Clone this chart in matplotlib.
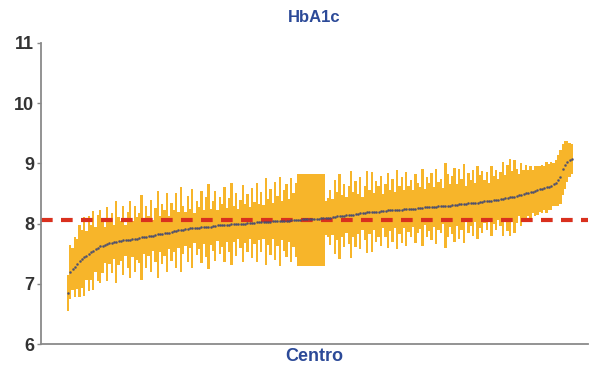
import matplotlib
matplotlib.use("Agg")
import matplotlib.pyplot as plt
from matplotlib.patches import Rectangle
import numpy as np

# Mean HbA1c per centre, sorted ascending
mean_hba1c = [
    6.84, 7.20, 7.24, 7.28, 7.33, 7.38, 7.41, 7.45, 7.47, 7.50, 7.52, 7.55, 7.57, 7.59, 7.62,
    7.63, 7.65, 7.66, 7.68, 7.68, 7.69, 7.70, 7.71, 7.71, 7.72, 7.72, 7.73, 7.73, 7.74, 7.74, 7.75,
    7.76, 7.77, 7.77, 7.78, 7.79, 7.80, 7.80, 7.81, 7.82, 7.82, 7.83, 7.84, 7.85, 7.85, 7.86, 7.87, 7.88, 7.89, 7.90,
    7.90, 7.91, 7.91, 7.92, 7.92, 7.93, 7.93, 7.93, 7.94, 7.94, 7.95, 7.95, 7.95, 7.96, 7.96, 7.97, 7.97,
    7.97, 7.98, 7.98, 7.98, 7.99, 7.99, 7.99, 8.00, 8.00, 8.00, 8.00, 8.01, 8.01, 8.01, 8.01, 8.02, 8.02,
    8.02, 8.03, 8.03, 8.03, 8.03, 8.04, 8.04, 8.04, 8.04, 8.05, 8.05, 8.05, 8.05, 8.06, 8.06, 8.06,
    8.06, 8.06, 8.07, 8.07, 8.07, 8.07, 8.08, 8.08, 8.08, 8.08, 8.09, 8.09,
    8.09, 8.10, 8.10, 8.11, 8.11, 8.12, 8.12, 8.13, 8.13, 8.14, 8.14, 8.15, 8.15, 8.16, 8.16, 8.17, 8.17, 8.18, 8.19,
    8.19, 8.19, 8.20, 8.20, 8.20, 8.21, 8.21, 8.21, 8.22, 8.22, 8.22, 8.22, 8.23, 8.23,
    8.23, 8.24, 8.24, 8.24, 8.25, 8.25, 8.25, 8.26, 8.26, 8.26, 8.27, 8.27, 8.27,
    8.28, 8.28, 8.28, 8.29, 8.29, 8.29, 8.30, 8.30, 8.30,
    8.31, 8.31, 8.31, 8.32, 8.32, 8.33, 8.33, 8.34, 8.34, 8.34, 8.35, 8.35, 8.36,
    8.36, 8.37, 8.37, 8.38, 8.38, 8.39, 8.39, 8.40, 8.41, 8.41, 8.42, 8.43, 8.44, 8.45,
    8.45, 8.46, 8.47, 8.48, 8.49, 8.50, 8.51, 8.52, 8.53, 8.54, 8.55, 8.57,
    8.58, 8.59, 8.60, 8.61, 8.63, 8.65, 8.67, 8.72,
    8.78, 8.90, 8.97, 9.03, 9.06, 9.07,
]

# Half-width of each centre's confidence interval
ci_half = [
    0.30, 0.45, 0.35, 0.50, 0.42, 0.60, 0.48, 0.66, 0.40, 0.62, 0.45, 0.66, 0.38, 0.55, 0.60,
    0.45, 0.30, 0.62, 0.35, 0.50, 0.28, 0.68, 0.40, 0.33, 0.58, 0.25, 0.47, 0.64, 0.30, 0.55, 0.36,
    0.42, 0.70, 0.28, 0.52, 0.33, 0.60, 0.26, 0.45, 0.72, 0.30, 0.50, 0.38, 0.66, 0.27, 0.48, 0.35, 0.62, 0.30, 0.70,
    0.40, 0.28, 0.55, 0.32, 0.66, 0.25, 0.45, 0.35, 0.60, 0.28, 0.50, 0.70, 0.30, 0.42, 0.58, 0.26, 0.48,
    0.36, 0.62, 0.28, 0.45, 0.68, 0.30, 0.52, 0.25, 0.40, 0.64, 0.32, 0.48, 0.27, 0.58, 0.35, 0.66, 0.30,
    0.50, 0.28, 0.72, 0.38, 0.55, 0.30, 0.65, 0.42, 0.74, 0.33, 0.50, 0.60, 0.36, 0.70, 0.45, 0.62,
    0.30, 0.35, 0.28, 0.40, 0.32, 0.36, 0.30, 0.38, 0.34, 0.29, 0.37, 0.31,
    0.28, 0.33, 0.45, 0.30, 0.62, 0.40, 0.70, 0.35, 0.52, 0.30, 0.48, 0.72, 0.38, 0.55, 0.33, 0.60, 0.28, 0.45, 0.68,
    0.36, 0.66, 0.30, 0.50, 0.42, 0.58, 0.28, 0.44, 0.62, 0.34, 0.52, 0.30, 0.66, 0.40,
    0.55, 0.32, 0.62, 0.38, 0.48, 0.30, 0.58, 0.42, 0.35, 0.64, 0.30, 0.50, 0.40,
    0.56, 0.33, 0.62, 0.40, 0.45, 0.30, 0.70, 0.52, 0.36,
    0.48, 0.62, 0.35, 0.58, 0.42, 0.66, 0.30, 0.50, 0.38, 0.55, 0.32, 0.60, 0.44,
    0.52, 0.36, 0.48, 0.30, 0.58, 0.40, 0.50, 0.34, 0.45, 0.62, 0.38, 0.55, 0.64, 0.42,
    0.60, 0.45, 0.35, 0.52, 0.40, 0.48, 0.38, 0.44, 0.36, 0.42, 0.40, 0.38,
    0.40, 0.36, 0.42, 0.38, 0.40, 0.35, 0.38, 0.42,
    0.45, 0.42, 0.40, 0.34, 0.28, 0.25,
]

# Group of centres sharing one wide interval (first/last centre index, limits)
group_first, group_last = 100, 111
group_lo, group_hi = 7.30, 8.82

overall_mean = 8.06
y_ticks = [6, 7, 8, 9, 10, 11]

assert len(mean_hba1c) == len(ci_half)

means = np.array(mean_hba1c)
half = np.array(ci_half)
lo = means - half
hi = means + half
idx = np.arange(len(means))

fig = plt.figure(figsize=(5.90, 3.68), dpi=100)
ax = fig.add_axes([0.0695, 0.0652, 0.927, 0.818])

orange = "#F7B52A"
ax.bar(idx, hi - lo, bottom=lo, width=1.0, color=orange, linewidth=0, zorder=1)
ax.add_patch(Rectangle((group_first - 0.5, group_lo), group_last - group_first + 1,
                       group_hi - group_lo, facecolor=orange, edgecolor="none", zorder=1))

ax.axhline(overall_mean, color="#D9301E", lw=3.0, dashes=(2.8, 2.0), zorder=2)
ax.plot(idx, means, linestyle="none", marker="o", ms=1.5, mfc="#4A5078",
        mec="#3A3F66", mew=0.2, zorder=3)

ax.set_ylim(6, 11)
px_per = 504 / (len(means) - 1)
ax.set_xlim(-27 / px_per, len(means) - 1 + 16 / px_per)
ax.set_yticks(y_ticks)
ax.set_yticklabels([str(t) for t in y_ticks], fontfamily="Liberation Sans",
                   fontweight="bold", fontsize=13, color="#333333")
ax.set_xticks([])
ax.tick_params(axis="y", length=3, width=1, color="#888888", pad=2)

for side in ("top", "right"):
    ax.spines[side].set_visible(False)
for side in ("left", "bottom"):
    ax.spines[side].set_color("#8a8a8a")
    ax.spines[side].set_linewidth(1.3)

fig.text(0.532, 0.952, "HbA1c", ha="center", va="center", fontfamily="Liberation Sans",
         fontweight="bold", fontsize=12, color="#2C4A98")
fig.text(0.532, 0.030, "Centro", ha="center", va="center", fontfamily="Liberation Sans",
         fontweight="bold", fontsize=13, color="#2C4A98")

fig.savefig("out.png", dpi=100)
